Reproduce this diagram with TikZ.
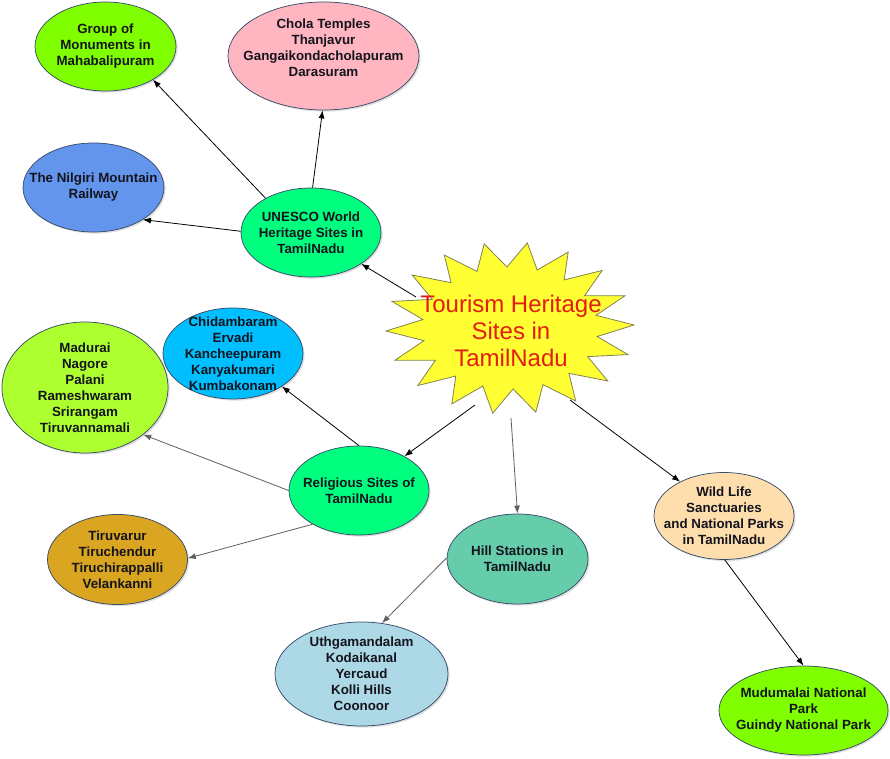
\documentclass[tikz,border=0pt]{standalone}
\usepackage{fontspec}
\setmainfont{Liberation Sans}
\usetikzlibrary{shapes.geometric,arrows.meta,shadows}
\newdimen\pxu \pxu=0.75pt
\definecolor{cChart}{RGB}{127,255,0}
\definecolor{cPink}{RGB}{255,182,193}
\definecolor{cCorn}{RGB}{100,149,237}
\definecolor{cSpring}{RGB}{0,255,127}
\definecolor{cGreenYellow}{RGB}{173,255,47}
\definecolor{cSky}{RGB}{0,191,255}
\definecolor{cGold}{RGB}{218,165,32}
\definecolor{cAqua}{RGB}{102,205,170}
\definecolor{cLightBlue}{RGB}{173,216,230}
\definecolor{cNavajo}{RGB}{255,222,173}
\definecolor{cEdge}{RGB}{55,75,105}
\definecolor{cStarFill}{RGB}{255,255,51}
\definecolor{cStarLine}{RGB}{130,130,80}
\definecolor{cRed}{RGB}{228,28,18}
\definecolor{cGrayArr}{RGB}{95,95,95}
\definecolor{cText}{RGB}{20,20,30}
\tikzset{
  bub/.style={ellipse, draw=cEdge, line width=0.55pt, inner sep=0pt,
    drop shadow={shadow xshift=1.2pt, shadow yshift=-1.2pt, opacity=0.25, fill=gray}},
  bubtext/.style={align=center, inner sep=0pt, text=cText, font=\fontsize{10}{12}\selectfont\bfseries},
  arr/.style={line width=0.6pt, draw=black, -{Latex[length=6pt,width=4.5pt]}},
  garr/.style={line width=0.6pt, draw=cGrayArr, -{Latex[length=6pt,width=4.5pt]}},
  hubtext/.style={align=center, text=cRed, inner sep=0pt, font=\fontsize{18}{20.5}\selectfont}
}
\begin{document}
\begin{tikzpicture}[x=0.75pt,y=-0.75pt]
\useasboundingbox (0,0) rectangle (890,759);
\fill[white] (0,0) rectangle (890,759);

% central star
\draw[draw=cStarLine, fill=cStarFill, line width=0.6pt]
  ({510+124*cos(2)},{328-86*sin(2)})
  \foreach \k in {1,...,35} { -- ({510+cos(10*\k+2)*(124-36*mod(\k,2))},{328-sin(10*\k+2)*(86-25*mod(\k,2))}) }
  -- cycle;
\node[hubtext] (hub) at (511,331) {Tourism Heritage\\Sites in\\TamilNadu};
\coordinate (s1) at (416,297);
\coordinate (s2) at (475,405);
\coordinate (s3) at (511,418);
\coordinate (s4) at (570,400);

% ellipses
\node[bub, fill=cChart, minimum width=141\pxu, minimum height=89\pxu,
  label={[bubtext]center:{Group of\\Monuments in\\Mahabalipuram}}] (group) at (105.5,46.5) {};
\node[bub, fill=cPink, minimum width=191\pxu, minimum height=108\pxu,
  label={[bubtext, yshift=6pt]center:{Chola Temples\\Thanjavur\\Gangaikondacholapuram\\Darasuram}}] (chola) at (323.5,56) {};
\node[bub, fill=cCorn, minimum width=141\pxu, minimum height=89\pxu,
  label={[bubtext]center:{The Nilgiri Mountain\\Railway}}] (nilgiri) at (93.5,187.5) {};
\node[bub, fill=cSpring, minimum width=140\pxu, minimum height=89\pxu,
  label={[bubtext]center:{UNESCO World\\Heritage Sites in\\TamilNadu}}] (unesco) at (311,232.5) {};
\node[bub, fill=cGreenYellow, minimum width=166\pxu, minimum height=131\pxu,
  label={[bubtext]center:{Madurai\\Nagore\\Palani\\Rameshwaram\\Srirangam\\Tiruvannamali}}] (madurai) at (85,387.5) {};
\node[bub, fill=cSky, minimum width=140\pxu, minimum height=91\pxu,
  label={[bubtext]center:{Chidambaram\\Ervadi\\Kancheepuram\\Kanyakumari\\Kumbakonam}}] (chid) at (233,353.5) {};
\node[bub, fill=cSpring, minimum width=140\pxu, minimum height=89\pxu,
  label={[bubtext]center:{Religious Sites of\\TamilNadu}}] (relig) at (359,490.5) {};
\node[bub, fill=cGold, minimum width=140\pxu, minimum height=90\pxu,
  label={[bubtext]center:{Tiruvarur\\Tiruchendur\\Tiruchirappalli\\Velankanni}}] (tiru) at (117.5,559.5) {};
\node[bub, fill=cAqua, minimum width=141\pxu, minimum height=90\pxu,
  label={[bubtext]center:{Hill Stations in\\TamilNadu}}] (hill) at (517.5,559) {};
\node[bub, fill=cLightBlue, minimum width=173\pxu, minimum height=104\pxu,
  label={[bubtext]center:{Uthgamandalam\\Kodaikanal\\Yercaud\\Kolli Hills\\Coonoor}}] (uth) at (361.5,674) {};
\node[bub, fill=cNavajo, minimum width=140\pxu, minimum height=87\pxu,
  label={[bubtext]center:{Wild Life\\Sanctuaries\\and National Parks\\in TamilNadu}}] (wild) at (724,516) {};
\node[bub, fill=cChart, minimum width=169\pxu, minimum height=89\pxu,
  label={[bubtext]center:{Mudumalai National\\Park\\Guindy National Park}}] (mudu) at (803.5,710.5) {};

% connectors
\draw[arr] (s1) -- (unesco.-32.6);
\draw[arr] (unesco.143) -- (group.-35.5);
\draw[arr] (unesco.88) -- (chola.-91);
\draw[arr] (unesco.179) -- (nilgiri.-33.4);
\draw[arr] (s2) -- (relig.37.3);
\draw[arr] (relig.90) -- (chid.-34);
\draw[garr] (relig.180) -- (madurai.-39.6);
\draw[garr] (relig.216.7) -- (tiru.1);
\draw[garr] (s3) -- (hill.90);
\draw[garr] (hill.179) -- (uth.68.7);
\draw[arr] (s4) -- (wild.142);
\draw[arr] (wild.-89) -- (mudu.90);
\end{tikzpicture}
\end{document}
